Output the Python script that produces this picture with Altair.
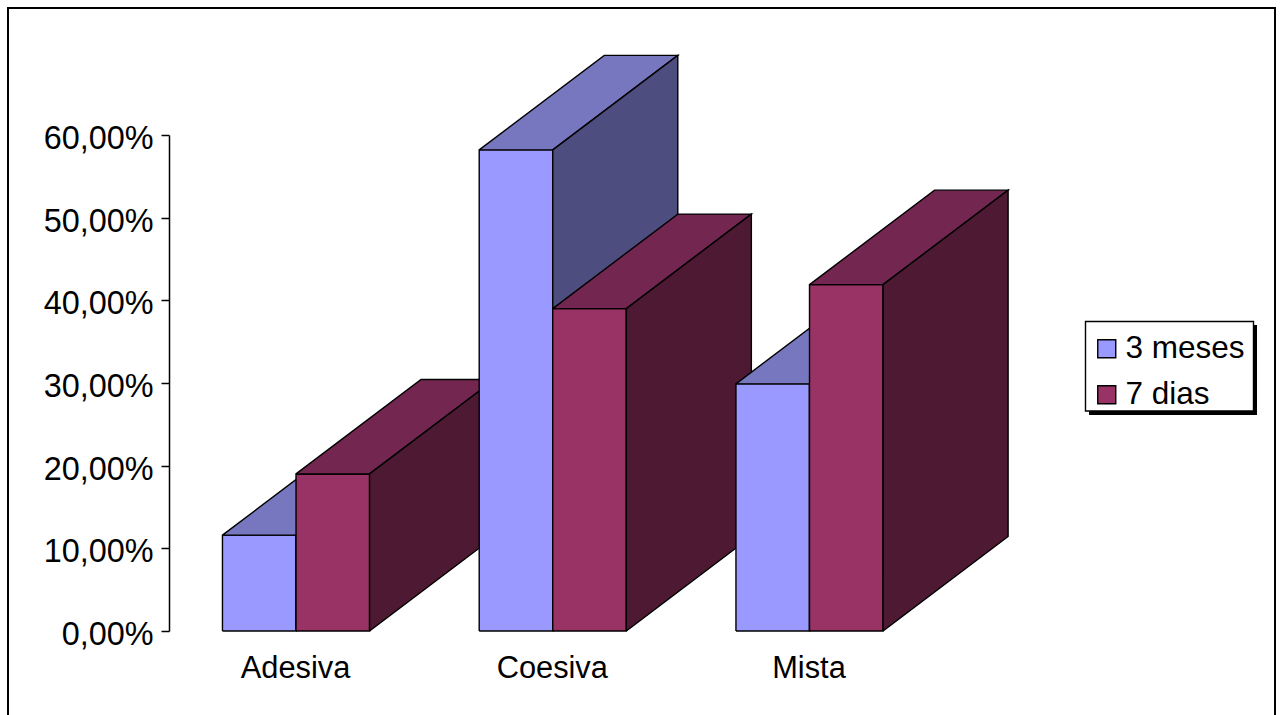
import altair as alt
import pandas as pd

# Bar heights per fracture type and storage time
categories = ["Adesiva", "Coesiva", "Mista"]
series = ["3 meses", "7 dias"]
values_3_meses = [0.116, 0.582, 0.299]
values_7_dias = [0.19, 0.39, 0.419]

# Face colours of each series: front, top, side
face_colors = {
    "3 meses": ["#9999FF", "#7777BF", "#4D4D7F"],
    "7 dias": ["#993366", "#732650", "#4D1933"],
}

# Oblique box geometry, in axis units
BAR_WIDTH = 0.2865
DEPTH_X = 0.487
DEPTH_Y = 0.1143
CENTER_X = 0.0
STEP = 1.0


def box_faces(center, offset, value, name, bar_id):
    """Closed outlines of the three visible faces of one box."""
    x0 = center + offset * BAR_WIDTH
    x1 = x0 + BAR_WIDTH
    faces = {
        "front": [(x0, 0), (x1, 0), (x1, value), (x0, value), (x0, 0)],
        "top": [
            (x0, value),
            (x1, value),
            (x1 + DEPTH_X, value + DEPTH_Y),
            (x0 + DEPTH_X, value + DEPTH_Y),
            (x0, value),
        ],
        "side": [
            (x1, 0),
            (x1 + DEPTH_X, DEPTH_Y),
            (x1 + DEPTH_X, value + DEPTH_Y),
            (x1, value),
            (x1, 0),
        ],
    }
    rows = []
    for face, points in faces.items():
        key = name if face == "front" else f"{name} {face}"
        for i, (x, y) in enumerate(points):
            rows.append(
                {"x": x, "y": y, "i": i, "shape": f"{bar_id:02d}-{face}", "fill": key}
            )
    return rows


rows = []
bar_id = 0
for c, _ in enumerate(categories):
    center = CENTER_X + c * STEP
    for offset, name, vals in ((-1, "3 meses", values_3_meses), (0, "7 dias", values_7_dias)):
        rows += box_faces(center, offset, vals[c], name, bar_id)
        bar_id += 1
boxes = pd.DataFrame(rows)

domain = []
palette = []
for name in series:
    for suffix, color in zip(["", " top", " side"], face_colors[name]):
        domain.append(name + suffix)
        palette.append(color)

FONT = "Liberation Sans"
x_scale = alt.Scale(domain=[-0.4947, 3.8403], nice=False, zero=False)
y_scale = alt.Scale(domain=[0, 0.6], nice=False)

label_names = "{0: 'Adesiva', 1: 'Coesiva', 2: 'Mista'}[datum.value]"

bars = (
    alt.Chart(boxes)
    .mark_line(stroke="black", strokeWidth=1.4, interpolate="linear", clip=False, strokeJoin="miter")
    .encode(
        x=alt.X(
            "x:Q",
            scale=x_scale,
            title=None,
            axis=alt.Axis(
                values=[0, 1, 2],
                labelExpr=label_names,
                domain=False,
                ticks=False,
                grid=False,
                labelFont=FONT,
                labelFontSize=30.8,
                labelColor="black",
                labelPadding=22,
                labelOffset=-1,
            ),
        ),
        y=alt.Y(
            "y:Q",
            scale=y_scale,
            title=None,
            axis=alt.Axis(
                values=[0, 0.1, 0.2, 0.3, 0.4, 0.5, 0.6],
                labelExpr="replace(format(datum.value, '.2%'), '.', ',')",
                grid=False,
                domainColor="black",
                domainWidth=1.5,
                tickColor="black",
                tickWidth=1.5,
                tickSize=8,
                labelFont=FONT,
                labelFontSize=32.4,
                labelColor="black",
                labelPadding=8,
                labelOffset=3.5,
            ),
        ),
        fill=alt.Fill(
            "fill:N",
            scale=alt.Scale(domain=domain, range=palette),
            legend=alt.Legend(
                values=series,
                title=None,
                orient="none",
                legendX=916,
                legendY=195,
                padding=3,
                symbolType="square",
                symbolSize=324,
                symbolStrokeColor="black",
                symbolStrokeWidth=1.4,
                symbolOffset=3,
                labelFont=FONT,
                labelFontSize=31.5,
                labelColor="black",
                labelOffset=3,
                rowPadding=13,
            ),
        ),
        detail="shape:N",
        order="i:Q",
    )
)

blank = alt.Data(values=[{"k": 0}])

# Outer chart frame
frame = alt.Chart(blank).mark_rect(fillOpacity=0, stroke="black", strokeWidth=2).encode(
    x=alt.value(-161), x2=alt.value(1106), y=alt.value(-127), y2=alt.value(640)
)

# Drop shadow behind the legend box
shadow = alt.Chart(blank).mark_rect(fill="black").encode(
    x=alt.value(920), x2=alt.value(1088), y=alt.value(190), y2=alt.value(280)
)

# White panel the legend entries sit on
legend_box = alt.Chart(blank).mark_rect(fill="white", stroke="black", strokeWidth=1.4).encode(
    x=alt.value(916.5), x2=alt.value(1084.5), y=alt.value(186.5), y2=alt.value(276)
)

chart = (
    alt.layer(frame, shadow, legend_box, bars)
    .properties(
        width=1113,
        height=496,
        padding={"left": 169, "top": 135, "right": 0, "bottom": 84},
        autosize=alt.AutoSizeParams(type="none"),
        background="white",
    )
    .configure_view(stroke=None)
)

chart.save("out.html", embed_options={"renderer": "svg", "actions": False})
